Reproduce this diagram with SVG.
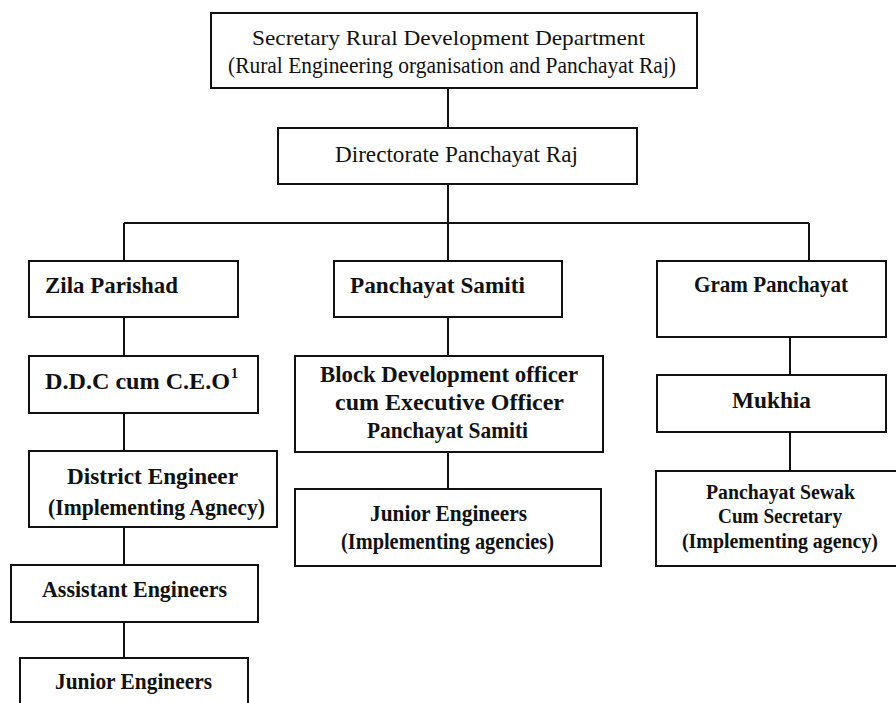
<svg xmlns="http://www.w3.org/2000/svg" width="896" height="703" viewBox="0 0 896 703">
<style>
.box{fill:#fff;stroke:#111;stroke-width:2}
.ln{stroke:#111;stroke-width:2;fill:none}
text{font-family:"Liberation Serif","Times New Roman",serif;fill:#111;font-size:24px}
.b{font-weight:bold}
.c{text-anchor:middle}
.s{font-size:20px}
.t1{font-size:22px}
.t2{font-size:24px}
</style>
<rect width="896" height="703" fill="#fff"/>
<g id="connectors">
<path class="ln" d="M448 88V128M448 184V261M124 223H809M124 223V261M809 223V261M124 317V356M124 413V451M124 527V565M124 622V658M448 317V356M448 452V489M790 337V375M790 432V471"/>
</g>
<g id="secretary">
<rect class="box" x="211" y="13" width="486" height="75"/>
<text class="c t1" x="448.5" y="45" textLength="393" lengthAdjust="spacingAndGlyphs">Secretary Rural Development Department</text>
<text class="c t2" x="452" y="73" textLength="448" lengthAdjust="spacingAndGlyphs">(Rural Engineering organisation and Panchayat Raj)</text>
</g>
<g id="directorate">
<rect class="box" x="278" y="128" width="359" height="56"/>
<text class="c" x="456.5" y="162" textLength="243" lengthAdjust="spacingAndGlyphs">Directorate Panchayat Raj</text>
</g>
<g id="zila">
<rect class="box" x="29" y="261" width="209" height="56"/>
<text class="b" x="45" y="293" textLength="133" lengthAdjust="spacingAndGlyphs">Zila Parishad</text>
</g>
<g id="samiti">
<rect class="box" x="334" y="261" width="228" height="56"/>
<text class="b" x="350" y="293" textLength="175" lengthAdjust="spacingAndGlyphs">Panchayat Samiti</text>
</g>
<g id="gram">
<rect class="box" x="657" y="261" width="229" height="76"/>
<text class="b" x="694" y="292" textLength="154" lengthAdjust="spacingAndGlyphs">Gram Panchayat</text>
</g>
<g id="ddc">
<rect class="box" x="29" y="356" width="229" height="57"/>
<text class="b" x="45" y="389" textLength="185" lengthAdjust="spacingAndGlyphs">D.D.C cum C.E.O</text>
<text class="b" x="231" y="378" style="font-size:14px">1</text>
</g>
<g id="bdo">
<rect class="box" x="295" y="356" width="308" height="96"/>
<text class="b c" x="449" y="382" textLength="258" lengthAdjust="spacingAndGlyphs">Block Development officer</text>
<text class="b c" x="449.5" y="410" textLength="229" lengthAdjust="spacingAndGlyphs">cum Executive Officer</text>
<text class="b c" x="447.5" y="438" textLength="161" lengthAdjust="spacingAndGlyphs">Panchayat Samiti</text>
</g>
<g id="mukhia">
<rect class="box" x="657" y="375" width="229" height="57"/>
<text class="b c" x="771.5" y="408" textLength="79" lengthAdjust="spacingAndGlyphs">Mukhia</text>
</g>
<g id="district">
<rect class="box" x="29" y="451" width="248" height="76"/>
<text class="b c" x="152.5" y="484" textLength="171" lengthAdjust="spacingAndGlyphs">District Engineer</text>
<text class="b c" x="156.5" y="515" textLength="217" lengthAdjust="spacingAndGlyphs">(Implementing Agnecy)</text>
</g>
<g id="je-mid">
<rect class="box" x="295" y="489" width="306" height="77"/>
<text class="b c" x="448.5" y="521" textLength="157" lengthAdjust="spacingAndGlyphs">Junior Engineers</text>
<text class="b c" x="447.5" y="549" textLength="213" lengthAdjust="spacingAndGlyphs">(Implementing agencies)</text>
</g>
<g id="sewak">
<rect class="box" x="656" y="471" width="250" height="95"/>
<text class="b c s" x="780.5" y="499" textLength="149" lengthAdjust="spacingAndGlyphs">Panchayat Sewak</text>
<text class="b c s" x="780" y="523" textLength="124" lengthAdjust="spacingAndGlyphs">Cum Secretary</text>
<text class="b c s" x="780" y="548" textLength="196" lengthAdjust="spacingAndGlyphs">(Implementing agency)</text>
</g>
<g id="assistant">
<rect class="box" x="11" y="565" width="247" height="57"/>
<text class="b c" x="134.5" y="597" textLength="185" lengthAdjust="spacingAndGlyphs">Assistant Engineers</text>
</g>
<g id="je-left">
<rect class="box" x="20" y="658" width="228" height="60"/>
<text class="b c" x="133.5" y="689" textLength="157" lengthAdjust="spacingAndGlyphs">Junior Engineers</text>
</g>
</svg>
